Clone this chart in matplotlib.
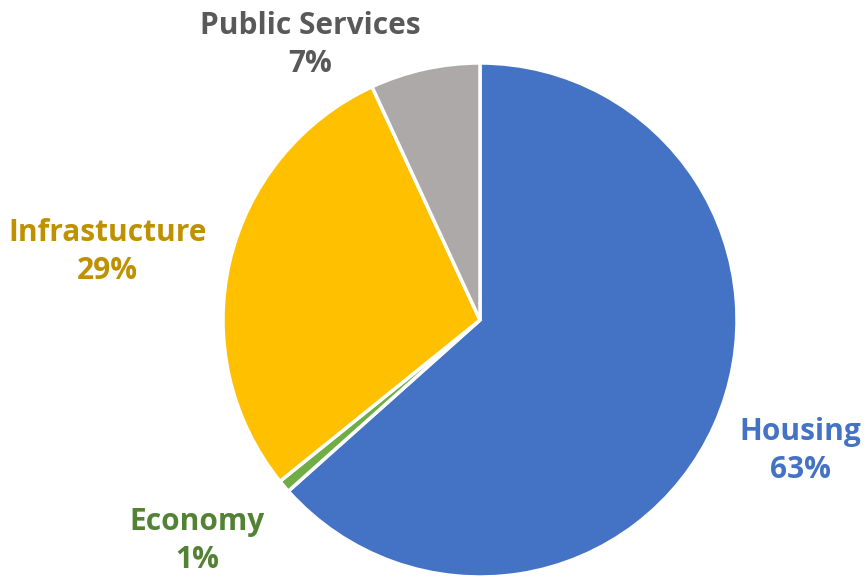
import matplotlib.pyplot as plt

categories = ["Housing", "Economy", "Infrastucture", "Public Services"]
shares = [63.4, 0.8, 28.9, 6.9]
slice_colors = ["#4472C4", "#70AD47", "#FFC000", "#ADA9A9"]
label_colors = ["#4472C4", "#548235", "#BF9000", "#595959"]
# label centres in pie units (radius = 1)
label_pos = [(1.245, -0.51), (-1.10, -0.86), (-1.45, 0.265), (-0.66, 1.07)]

fig = plt.figure(figsize=(8.65, 5.76), dpi=100)
W, H = 865, 576
cx, cy, r = 480, 320, 257
ax = fig.add_axes([(cx - r) / W, (H - cy - r) / H, 2 * r / W, 2 * r / H])

wedges, _ = ax.pie(shares, colors=slice_colors, startangle=90, counterclock=False,
                   radius=1, wedgeprops=dict(edgecolor="white", linewidth=2.5))
ax.set_xlim(-1, 1)
ax.set_ylim(-1, 1)
ax.set_aspect("equal")
ax.axis("off")

for name, val, col, (x, y) in zip(categories, shares, label_colors, label_pos):
    ax.text(x, y, f"{name}\n{round(val):.0f}%", ha="center", va="center",
            color=col, fontsize=21.5, fontweight="bold", family="Open Sans",
            linespacing=1.38, clip_on=False)

fig.savefig("out.png", dpi=100)
